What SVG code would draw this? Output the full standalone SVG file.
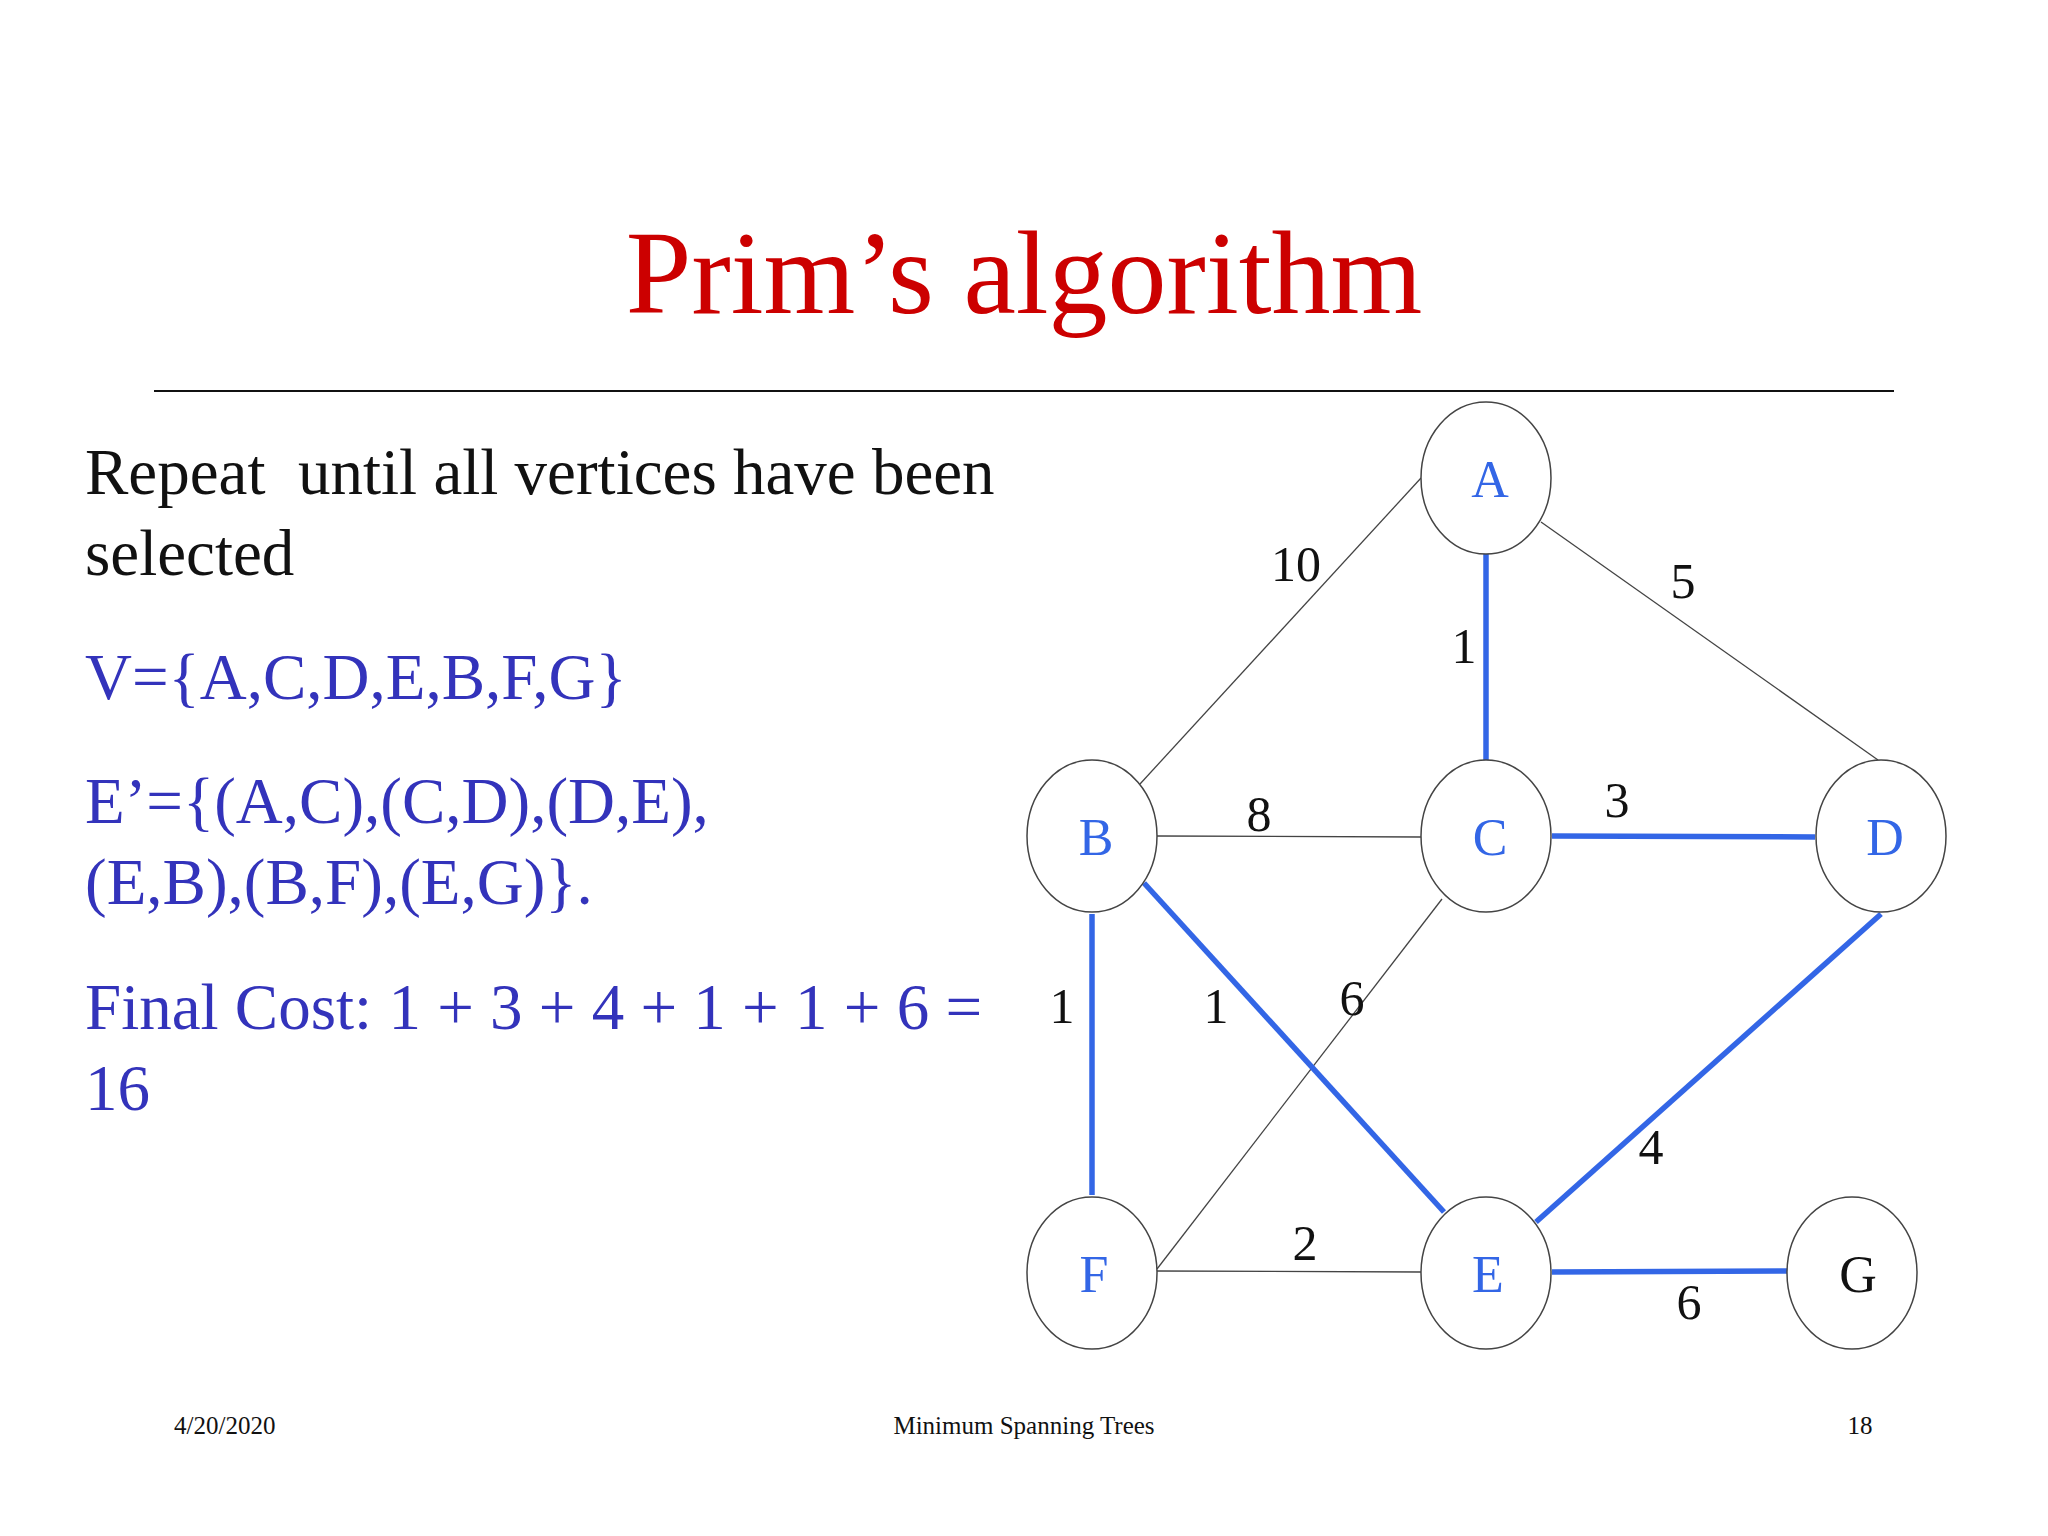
<svg xmlns="http://www.w3.org/2000/svg" width="2048" height="1536" viewBox="0 0 2048 1536">
<style>
.t{font-family:"Liberation Serif",serif}
.n ellipse{fill:#fff;stroke:#444;stroke-width:1.5}
.n text{font-family:"Liberation Serif",serif;font-size:52px;fill:#3366e6;text-anchor:middle}
.thin{stroke:#444;stroke-width:1.3}
.sel{stroke:#3366e6;stroke-width:5.5}
.w{font-family:"Liberation Serif",serif;font-size:50px;fill:#111;text-anchor:middle}
.b{fill:#3333bb;font-size:65px}
.f{font-size:25px;fill:#111}
</style>
<rect width="2048" height="1536" fill="#fff"/>
<text class="t" x="1024" y="313" font-size="118" fill="#cc0000" text-anchor="middle">Prim’s algorithm</text>
<line x1="154" y1="391" x2="1894" y2="391" stroke="#111" stroke-width="2"/>
<text class="t" x="85" y="494" font-size="65" fill="#111" xml:space="preserve">Repeat  until all vertices have been</text>
<text class="t" x="85" y="575" font-size="65" fill="#111">selected</text>
<text class="t b" x="85" y="699">V={A,C,D,E,B,F,G}</text>
<text class="t b" x="85" y="823">E’={(A,C),(C,D),(D,E),</text>
<text class="t b" x="85" y="904">(E,B),(B,F),(E,G)}.</text>
<text class="t b" x="85" y="1029">Final Cost: 1 + 3 + 4 + 1 + 1 + 6 =</text>
<text class="t b" x="85" y="1110">16</text>
<g id="edges">
<line class="thin" x1="1421" y1="478" x2="1140" y2="784"/>
<line class="thin" x1="1541" y1="522" x2="1878" y2="760"/>
<line class="thin" x1="1157" y1="836" x2="1421" y2="837"/>
<line class="thin" x1="1442" y1="899" x2="1157" y2="1269"/>
<line class="thin" x1="1157" y1="1271" x2="1421" y2="1272"/>
<line class="sel" x1="1486" y1="554" x2="1486" y2="760"/>
<line class="sel" x1="1552" y1="836" x2="1815" y2="837"/>
<line class="sel" x1="1092" y1="914" x2="1092" y2="1195"/>
<line class="sel" x1="1144" y1="883" x2="1444" y2="1212"/>
<line class="sel" x1="1881" y1="914" x2="1536" y2="1222"/>
<line class="sel" x1="1552" y1="1272" x2="1787" y2="1271"/>
<text class="w" x="1296" y="581">10</text>
<text class="w" x="1683" y="598">5</text>
<text class="w" x="1464" y="663">1</text>
<text class="w" x="1259" y="831">8</text>
<text class="w" x="1617" y="817">3</text>
<text class="w" x="1062" y="1023">1</text>
<text class="w" x="1216" y="1023">1</text>
<text class="w" x="1352" y="1015">6</text>
<text class="w" x="1651" y="1164">4</text>
<text class="w" x="1305" y="1260">2</text>
<text class="w" x="1689" y="1319">6</text>
</g>
<g id="A" class="n"><ellipse cx="1486" cy="478" rx="65" ry="76"/><text x="1490" y="497">A</text></g>
<g id="B" class="n"><ellipse cx="1092" cy="836" rx="65" ry="76"/><text x="1096" y="855">B</text></g>
<g id="C" class="n"><ellipse cx="1486" cy="836" rx="65" ry="76"/><text x="1490" y="855">C</text></g>
<g id="D" class="n"><ellipse cx="1881" cy="836" rx="65" ry="76"/><text x="1885" y="855">D</text></g>
<g id="F" class="n"><ellipse cx="1092" cy="1273" rx="65" ry="76"/><text x="1094" y="1292">F</text></g>
<g id="E" class="n"><ellipse cx="1486" cy="1273" rx="65" ry="76"/><text x="1488" y="1292">E</text></g>
<g id="G" class="n"><ellipse cx="1852" cy="1273" rx="65" ry="76"/><text x="1858" y="1292" style="fill:#111">G</text></g>
<text class="t f" x="174" y="1434">4/20/2020</text>
<text class="t f" x="1024" y="1434" text-anchor="middle">Minimum Spanning Trees</text>
<text class="t f" x="1860" y="1434" text-anchor="middle">18</text>
</svg>
